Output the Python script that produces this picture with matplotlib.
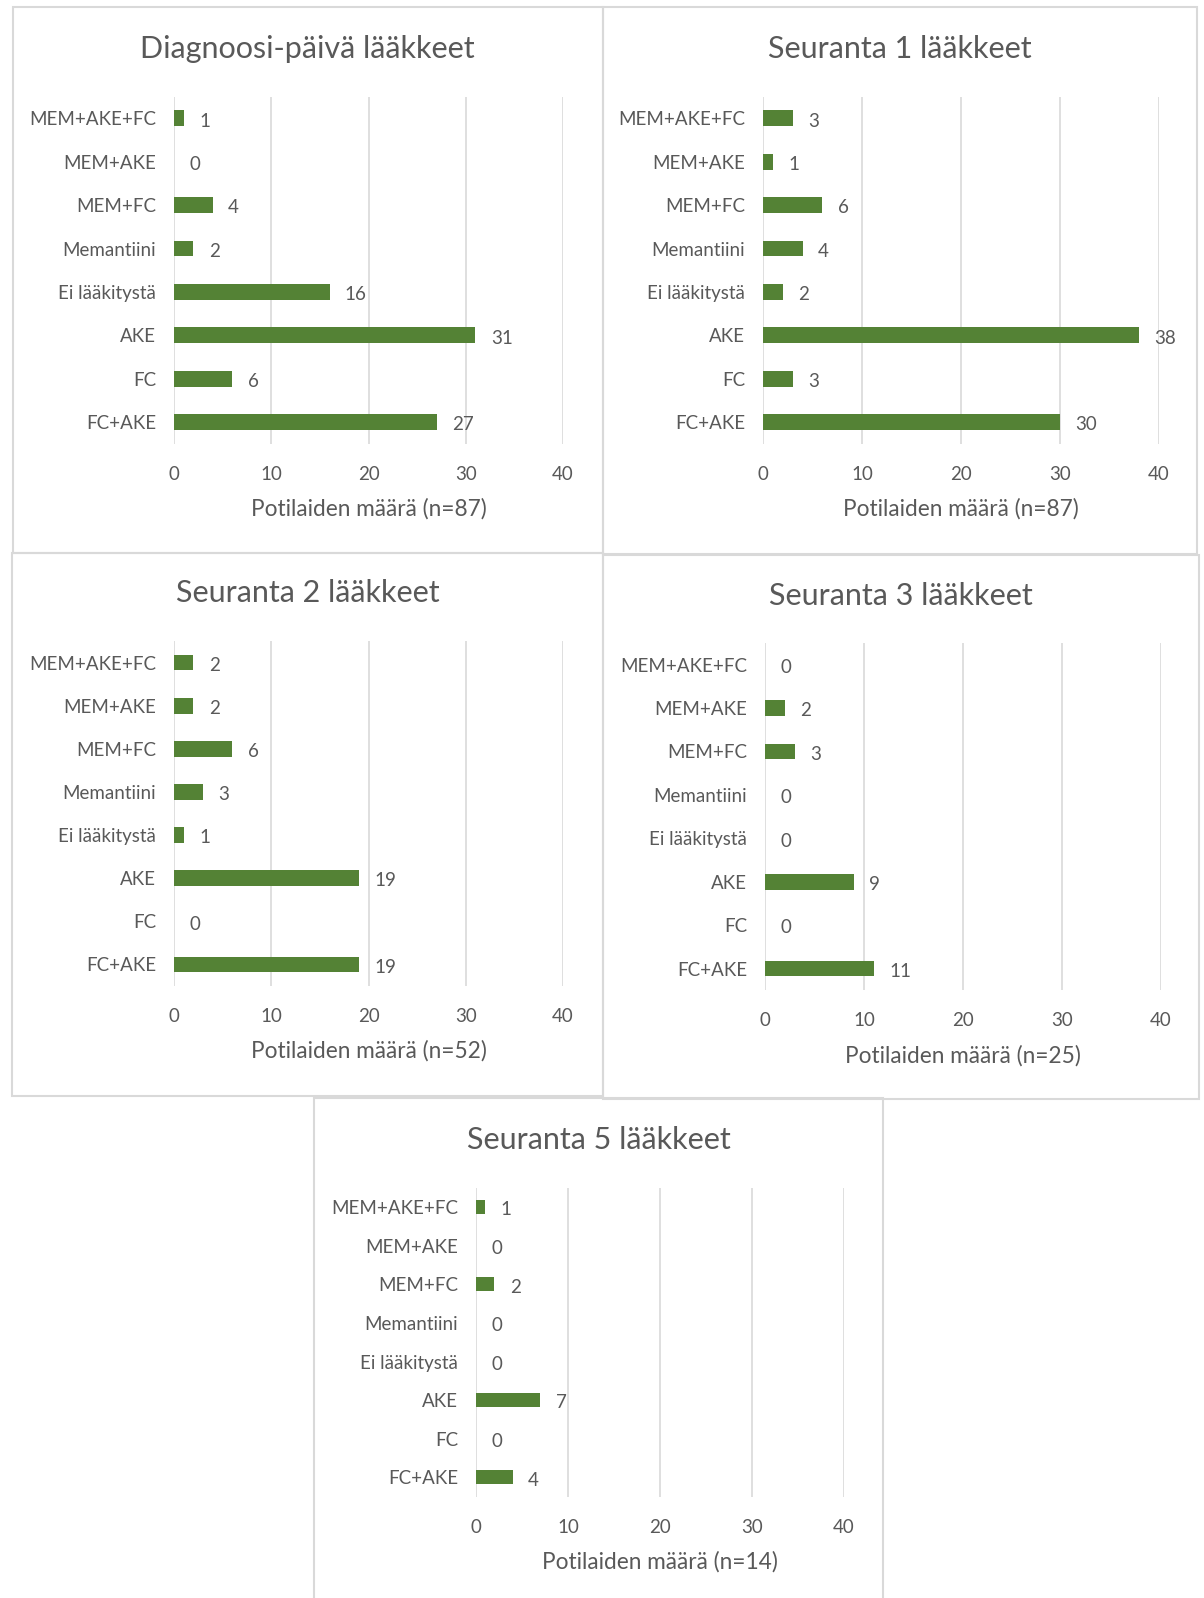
import matplotlib.pyplot as plt
from matplotlib.patches import Rectangle

plt.rcParams['font.family'] = ['Lato', 'DejaVu Sans']

categories = ['MEM+AKE+FC', 'MEM+AKE', 'MEM+FC', 'Memantiini',
              'Ei lääkitystä', 'AKE', 'FC', 'FC+AKE']

diagnoosi = [1, 0, 4, 2, 16, 31, 6, 27]
seuranta1 = [3, 1, 6, 4, 2, 38, 3, 30]
seuranta2 = [2, 2, 6, 3, 1, 19, 0, 19]
seuranta3 = [0, 2, 3, 0, 0, 9, 0, 11]
seuranta5 = [1, 0, 2, 0, 0, 7, 0, 4]

titles = ['Diagnoosi-päivä lääkkeet', 'Seuranta 1 lääkkeet', 'Seuranta 2 lääkkeet',
          'Seuranta 3 lääkkeet', 'Seuranta 5 lääkkeet']
n_values = [87, 87, 52, 25, 14]
series = [diagnoosi, seuranta1, seuranta2, seuranta3, seuranta5]

W, H = 1204, 1598
fig = plt.figure(figsize=(W / 100, H / 100), dpi=100)

bar_color = '#548235'
text_color = '#595959'
grid_color = '#d9d9d9'

# panel frames in pixels: x0, y0, x1, y1 (y from top)
frames = [(12.5, 7.5, 603, 553), (603, 7.5, 1197, 554),
          (12, 553, 603, 1096), (603, 555, 1199, 1099),
          (314, 1098, 883, 1610)]
# plot areas in pixels: left, top, right, bottom
areas = [(174, 96.6, 563, 443.8), (763, 96.6, 1159, 443.8),
         (174, 641.1, 563, 986.0), (765, 643.0, 1161, 990.2),
         (476, 1187.8, 844, 1496.6)]
title_y = [49, 49, 593, 596, 1140]

for (x0, y0, x1, y1) in frames:
    fig.patches.append(Rectangle((x0 / W, 1 - y1 / H), (x1 - x0) / W, (y1 - y0) / H,
                                 transform=fig.transFigure, facecolor='none',
                                 edgecolor=grid_color, linewidth=1.5, zorder=-1))

for i in range(5):
    l, t, r, b = areas[i]
    ax = fig.add_axes([l / W, 1 - b / H, (r - l) / W, (b - t) / H])
    ax.patch.set_visible(False)
    vals = series[i]
    ypos = list(range(len(categories)))
    ax.barh(ypos, vals, height=0.36, color=bar_color, zorder=3)
    for y, v in zip(ypos, vals):
        ax.annotate(str(v), (v, y), xytext=(11, -2), textcoords='offset points',
                    ha='left', va='center', fontsize=13.5, color=text_color)
    ax.set_xlim(0, 40)
    ax.set_ylim(len(categories) - 0.5, -0.5)
    ax.set_xticks([0, 10, 20, 30, 40])
    ax.set_yticks(ypos)
    ax.set_yticklabels(categories)
    ax.grid(axis='x', color=grid_color, linewidth=1.2, zorder=0)
    ax.set_axisbelow(True)
    for s in ax.spines.values():
        s.set_visible(False)
    ax.tick_params(axis='both', length=0, labelsize=13.5, labelcolor=text_color)
    ax.tick_params(axis='y', pad=13)
    ax.tick_params(axis='x', pad=16)
    ax.set_xlabel(f'Potilaiden määrä (n={n_values[i]})', fontsize=16.3,
                  color=text_color, labelpad=11)
    cx = (frames[i][0] + frames[i][2]) / 2
    fig.text(cx / W, 1 - title_y[i] / H, titles[i], ha='center', va='center',
             fontsize=22, color=text_color)

fig.savefig('out.png', dpi=100, facecolor='white')
